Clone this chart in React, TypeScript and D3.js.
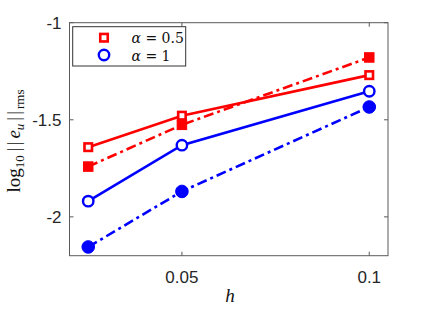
import React from "react";
import * as d3 from "d3";

const hValues = [0.025, 0.05, 0.1];
const redSolid = [-1.641, -1.479, -1.27];
const redDash = [-1.741, -1.526, -1.179];
const blueSolid = [-1.919, -1.631, -1.353];
const blueDash = [-2.155, -1.869, -1.434];
const xTicks = [0.05, 0.1];
const xTickLabels = ["0.05", "0.1"];
const yTicks = [-2, -1.5, -1];
const yTickLabels = ["-2", "-1.5", "-1"];

const W = 428, H = 309;
const L = 69.5, R = 388, T = 22.7, B = 255.7;

export default function App() {
  const x = d3.scaleLinear().domain([0.02, 0.105]).range([L, R]);
  const y = d3.scaleLinear().domain([-2.2, -1]).range([B, T]);
  const line = d3.line<number>().x((_, i) => x(hValues[i])).y((d) => y(d));
  const axisColor = "#5a5a5a";
  const dash = "10,4,3,4";
  const red = "#ff0000", blue = "#0000ff";
  const lw = 2.6;
  const sq = (cx: number, cy: number, s: number, filled: boolean, c: string, k: string) => (
    <rect key={k} x={cx - s / 2} y={cy - s / 2} width={s} height={s}
      fill={filled ? c : "white"} stroke={c} strokeWidth={filled ? 1 : 2.6} />
  );
  const circ = (cx: number, cy: number, r: number, filled: boolean, c: string, k: string) => (
    <circle key={k} cx={cx} cy={cy} r={r} fill={filled ? c : "white"} stroke={c} strokeWidth={filled ? 1 : 2.4} />
  );
  return (
    <svg width={W} height={H} style={{ position: "absolute", left: 0, top: 0 }}>
      <rect x={0} y={0} width={W} height={H} fill="white" />
      <rect x={L} y={T} width={R - L} height={B - T} fill="white" stroke={axisColor} strokeWidth={1} />
      {xTicks.map((t, i) => (
        <g key={"xt" + i}>
          <line x1={x(t)} x2={x(t)} y1={B} y2={B - 4} stroke={axisColor} />
          <line x1={x(t)} x2={x(t)} y1={T} y2={T + 4} stroke={axisColor} />
          <text x={x(t)} y={B + 27} textAnchor="middle" fontFamily="Liberation Sans, Arial" fontSize={17} fill="#262626">{xTickLabels[i]}</text>
        </g>
      ))}
      {yTicks.map((t, i) => (
        <g key={"yt" + i}>
          <line x1={L} x2={L + 4} y1={y(t)} y2={y(t)} stroke={axisColor} />
          <line x1={R} x2={R - 4} y1={y(t)} y2={y(t)} stroke={axisColor} />
          <text x={L - 8} y={y(t) + 6} textAnchor="end" fontFamily="Liberation Sans, Arial" fontSize={17} fill="#262626">{yTickLabels[i]}</text>
        </g>
      ))}
      <path d={line(redSolid) || ""} fill="none" stroke={red} strokeWidth={lw} />
      <path d={line(redDash) || ""} fill="none" stroke={red} strokeWidth={lw} strokeDasharray={dash} />
      <path d={line(blueSolid) || ""} fill="none" stroke={blue} strokeWidth={lw} />
      <path d={line(blueDash) || ""} fill="none" stroke={blue} strokeWidth={lw} strokeDasharray={dash} />
      {redSolid.map((v, i) => sq(x(hValues[i]), y(v), 7.5, false, red, "rs" + i))}
      {redDash.map((v, i) => sq(x(hValues[i]), y(v), 9.5, true, red, "rd" + i))}
      {blueSolid.map((v, i) => circ(x(hValues[i]), y(v), 5.2, false, blue, "bs" + i))}
      {blueDash.map((v, i) => circ(x(hValues[i]), y(v), 6.3, true, blue, "bd" + i))}
      <rect x={72.7} y={26.7} width={113} height={39.3} fill="white" stroke="#333" strokeWidth={1} />
      {sq(104, 37.7, 7.5, false, red, "lg1")}
      {circ(104, 55, 5.2, false, blue, "lg2")}
      <text x={131.5} y={43} fontFamily="DejaVu Serif, Liberation Serif" fontSize={14} fill="#111">
        <tspan fontStyle="italic">α</tspan> = 0.5
      </text>
      <text x={131.5} y={60.5} fontFamily="DejaVu Serif, Liberation Serif" fontSize={14} fill="#111">
        <tspan fontStyle="italic">α</tspan> = 1
      </text>
      <text x={230} y={302} textAnchor="middle" fontFamily="Liberation Serif, DejaVu Serif" fontStyle="italic" fontSize={19} fill="#111">h</text>
      <text transform={`translate(20,141) rotate(-90)`} textAnchor="middle" fontFamily="Liberation Serif, DejaVu Serif" fontSize={19} fill="#111">
        log<tspan fontSize={13} dy={4}>10</tspan>
        <tspan dy={-4} dx={4} letterSpacing={2}>||</tspan><tspan fontStyle="italic" dx={1}>e</tspan><tspan fontStyle="italic" fontSize={13} dy={4}>u</tspan><tspan dy={-4} dx={3} letterSpacing={2}>||</tspan><tspan fontSize={13} dy={4}>rms</tspan>
      </text>
    </svg>
  );
}
